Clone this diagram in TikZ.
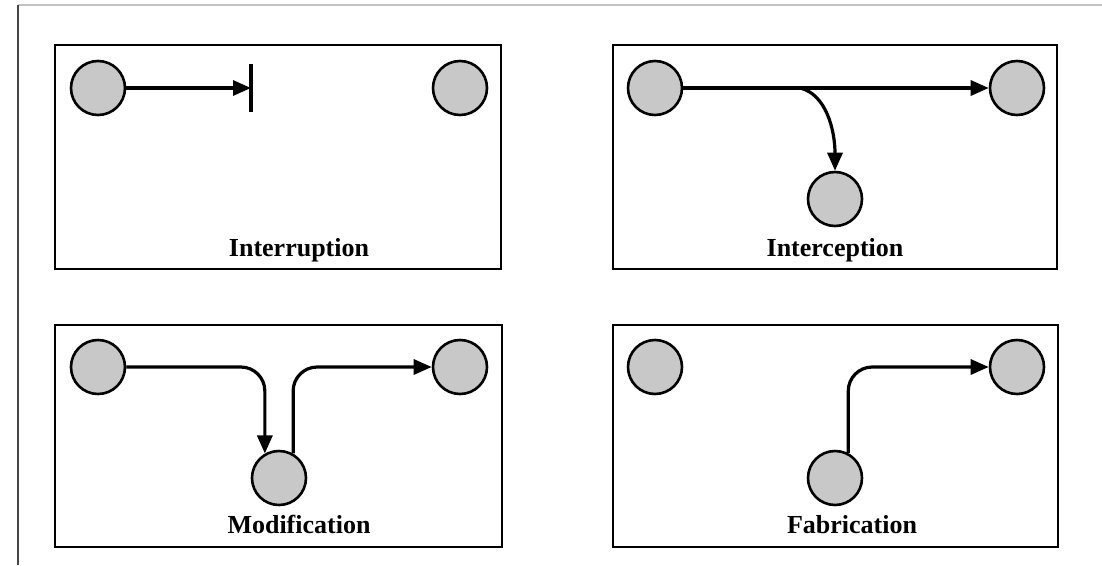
\documentclass[tikz,border=0pt]{standalone}
\usepackage{fontspec}
\setmainfont{Liberation Serif}
\usetikzlibrary{arrows.meta}
\definecolor{nodegray}{RGB}{200,200,200}
\definecolor{framegray}{RGB}{195,195,195}
\definecolor{leftgray}{RGB}{70,70,70}
\tikzset{
  panel/.style={draw=black, line width=2.6pt, fill=white},
  party/.style={circle, draw=black, line width=2.6pt, fill=nodegray, minimum size=54pt, inner sep=0pt},
  flow/.style={line width=3.2pt, -{Triangle[length=18pt,width=15pt]}},
  plain/.style={line width=3.4pt},
  caption/.style={font=\fontsize{26pt}{30pt}\selectfont\bfseries, anchor=base, inner sep=0pt}
}
\begin{document}
\begin{tikzpicture}[x=1pt,y=-1pt]
\useasboundingbox (0,0) rectangle (1102,565);
\fill[white] (0,0) rectangle (1102,565);
% outer frame lines
\draw[framegray, line width=1.4pt] (18,5) -- (1102,5);
\draw[leftgray, line width=1.4pt] (18,5) -- (18,565);
% panels
\draw[panel] (55,45) rectangle (501,269);
\draw[panel] (613,45) rectangle (1057,269);
\draw[panel] (55,325) rectangle (502,547);
\draw[panel] (613,325) rectangle (1058,547);

% Interruption
\node[party] (i1) at (98,88) {};
\node[party] (i3) at (460,88) {};
\coordinate (ibar) at (251,88);
\coordinate (ibartop) at (251,64);
\coordinate (ibarbot) at (251,112);
\draw[plain] (ibartop) -- (ibarbot);
\draw[flow] (i1) -- (ibar);
\node[caption] (lab1) at (299,256) {Interruption};

% Interception
\node[party] (c1) at (655,88) {};
\node[party] (c3) at (1017,88) {};
\node[party] (cb) at (835,199) {};
\coordinate (csplit) at (800,88);
\draw[flow] (c1) -- (c3);
\draw[flow] (csplit) .. controls (826,94) and (835,130) .. (cb.north);
\node[caption] (lab2) at (835,256) {Interception};

% Modification
\node[party] (m1) at (98,367) {};
\node[party] (m3) at (460,367) {};
\node[party] (mb) at (279,478) {};
\draw[flow, rounded corners=24pt] (m1.east) -- (mb.120 |- m1) -- (mb.120);
\draw[flow, rounded corners=24pt] (mb.60) -- (mb.60 |- m3) -- (m3.west);
\node[caption] (lab3) at (299,533) {Modification};

% Fabrication
\node[party] (f1) at (655,367) {};
\node[party] (f3) at (1017,367) {};
\node[party] (fb) at (835,478) {};
\draw[flow, rounded corners=24pt] (fb.62) -- (fb.62 |- f3) -- (f3.west);
\node[caption] (lab4) at (852,533) {Fabrication};
\end{tikzpicture}
\end{document}
